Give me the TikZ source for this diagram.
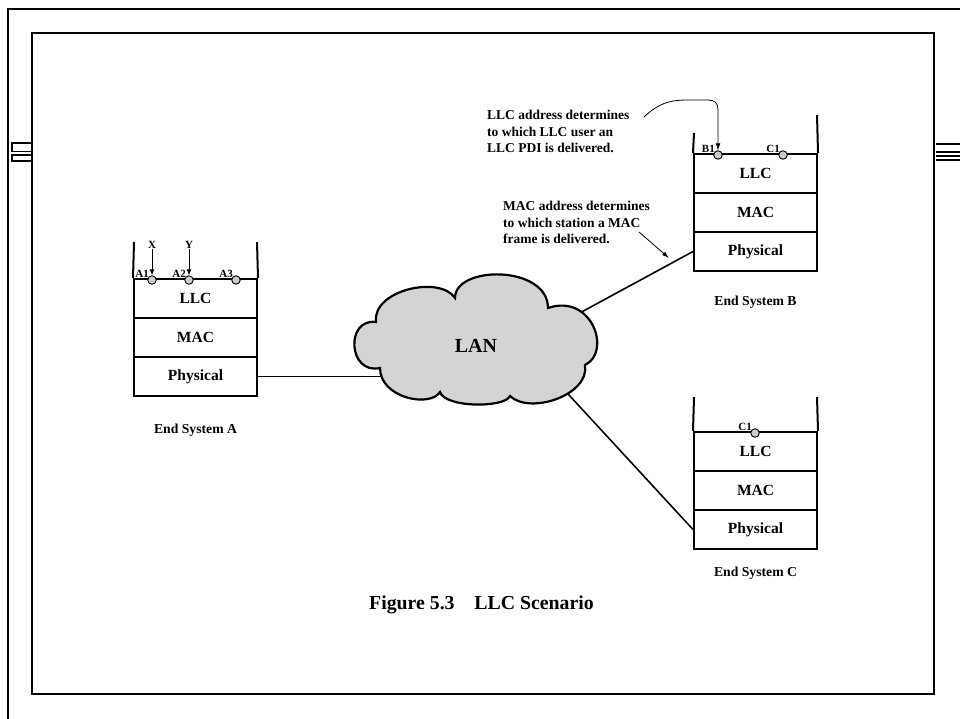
\documentclass[tikz,border=0pt]{standalone}
\usepackage{fontspec}
\setmainfont{Liberation Serif}
\usetikzlibrary{arrows.meta}
\tikzset{
  frameline/.style={line width=2.2pt},
  stackline/.style={line width=2pt},
  layer/.style={draw, line width=2pt, minimum width=123pt, minimum height=39pt, inner sep=0pt,
    font=\fontsize{15.5}{18}\selectfont\bfseries},
  port/.style={circle, draw, fill=gray!40, minimum size=8.5pt, inner sep=0pt, line width=0.9pt},
  plabel/.style={inner sep=0pt, font=\fontsize{11}{12}\selectfont\bfseries},
  syslabel/.style={inner sep=0pt, font=\fontsize{13.7}{16}\selectfont\bfseries},
  note/.style={inner sep=0pt, align=left, font=\fontsize{13.5}{16.5}\selectfont\bfseries},
  link/.style={line width=1.6pt},
  smalltip/.style={line width=0.9pt, -{Latex[length=6pt,width=5pt]}},
  thinarrow/.style={line width=0.8pt, -{Latex[length=7pt,width=5pt]}},
  cloudfill/.style={draw, line width=2.2pt, fill=black!17}
}
\begin{document}
\begin{tikzpicture}[x=1pt,y=-1pt]
\useasboundingbox (0,0) rectangle (960,719);
% frames
\draw[frameline] (8,719) -- (8,9) -- (960,9);
\draw[frameline] (32,33) rectangle (934,694);
\draw[line width=1.3pt] (12,143) rectangle (32,151.5);
\draw[line width=1.3pt] (12,155) rectangle (32,161);
\foreach \yy in {144,152,156,160} \draw[line width=1.3pt] (936,\yy) -- (960,\yy);

% stack A
\node[layer] (llcA) at (195.5,298.5) {LLC};
\node[layer] (macA) at (195.5,337.5) {MAC};
\node[layer] (physA) at (195.5,376.5) {Physical};
\draw[stackline] (llcA.north west) -- (134,242);
\draw[stackline] (llcA.north east) -- (257,242);
\node[syslabel] (sysA) at (195.5,430) {End System A};

% stack B
\node[layer] (llcB) at (755.5,173.5) {LLC};
\node[layer] (macB) at (755.5,212.5) {MAC};
\node[layer] (physB) at (755.5,251.5) {Physical};
\draw[stackline] (llcB.north west) -- (694,133);
\draw[stackline] (llcB.north east) -- (817,115);
\node[syslabel] (sysB) at (755.5,302) {End System B};

% stack C
\node[layer] (llcC) at (755.5,451.5) {LLC};
\node[layer] (macC) at (755.5,490.5) {MAC};
\node[layer] (physC) at (755.5,529.5) {Physical};
\draw[stackline] (llcC.north west) -- (694,397);
\draw[stackline] (llcC.north east) -- (817,397);
\node[syslabel] (sysC) at (755.5,573) {End System C};

% connectors to LAN (ends hidden under the cloud)
\coordinate (lanA) at (410,376.5);
\coordinate (lanB) at (560,323.7);
\coordinate (lanC) at (545,369);
\draw[link] (physA.east) -- (lanA);
\draw[link] (physB.west) -- (lanB);
\draw[link] (physC.west) -- (lanC);

% cloud
\draw[cloudfill] (380,368)
  .. controls (348,375) and (345,318) .. (376,322)
  .. controls (372,290) and (440,275) .. (455,298)
  .. controls (455,265) and (548,265) .. (548,308)
  .. controls (592,293) and (612,352) .. (585,365)
  .. controls (590,395) and (530,415) .. (510,396)
  .. controls (505,408) and (445,408) .. (440,392)
  .. controls (430,408) and (380,398) .. (380,368) -- cycle;
\node[inner sep=0pt, font=\fontsize{20}{24}\selectfont\bfseries] (lan) at (476,346) {LAN};

% ports A
\node[port] (A1) at (152,280) {};
\node[port] (A2) at (189,280) {};
\node[port] (A3) at (236,280) {};
\node[plabel, anchor=south east] (lA1) at (149,278) {A1};
\node[plabel, anchor=south east] (lA2) at (186,278) {A2};
\node[plabel, anchor=south east] (lA3) at (233,278) {A3};
\node[plabel] (X) at (152,245) {X};
\node[plabel] (Y) at (189,245) {Y};
\draw[smalltip] (X.south) -- (A1.north);
\draw[smalltip] (Y.south) -- (A2.north);

% ports B
\node[port] (B1) at (718,155) {};
\node[port] (C1b) at (783,155) {};
\node[plabel, anchor=south east] (lB1) at (715,153) {B1};
\node[plabel, anchor=south east] (lC1b) at (780,153) {C1};

% ports C
\node[port] (C1c) at (755,433) {};
\node[plabel, anchor=south east] (lC1c) at (752,431) {C1};

% annotations
\node[note, anchor=north west] (llcnote) at (487,110) {LLC address determines\\to which LLC user an\\LLC PDI is delivered.};
\coordinate (llcstart) at (644,117);
\draw[thinarrow] (llcstart) .. controls (658,104) and (668,100) .. (688,100) -- (708,100)
  .. controls (715,100) and (718,103) .. (718,110) -- (B1.north);

\node[note, anchor=north west] (macnote) at (503,201) {MAC address determines\\to which station a MAC\\frame is delivered.};
\coordinate (macstart) at (639,232);
\coordinate (macend) at (669,258);
\draw[line width=0.8pt, -{Latex[length=7pt,width=4.5pt]}] (macstart) -- (macend);

% caption
\node[inner sep=0pt, font=\fontsize{19.8}{23}\selectfont\bfseries] (caption) at (481.5,605) {Figure 5.3\quad LLC Scenario};
\end{tikzpicture}
\end{document}
